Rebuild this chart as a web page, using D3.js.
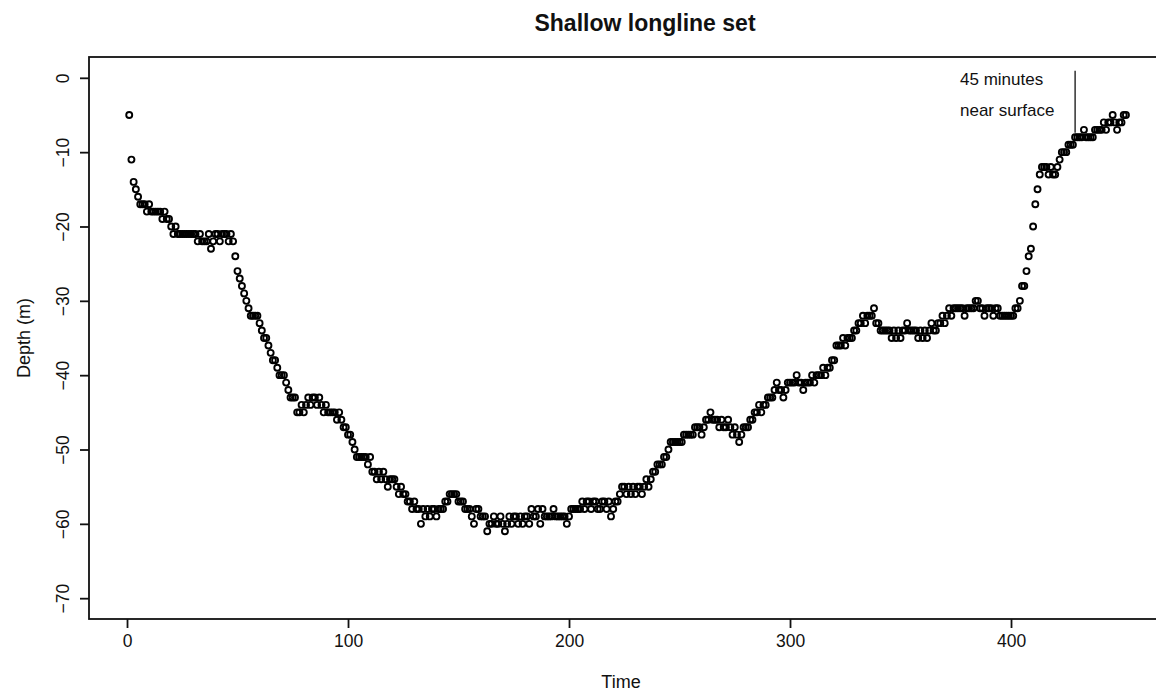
<!DOCTYPE html>
<html><head><meta charset="utf-8">
<script src="https://cdn.jsdelivr.net/npm/d3@7"></script>
<style>
body{margin:0;background:#fff;}
text{font-family:"Liberation Sans",Arial,Helvetica,sans-serif;fill:#111;}
</style></head>
<body><svg id="chart" width="1156" height="694"></svg>
<script>
// Depth (m) recorded at successive time steps (time = 1, 2, 3, ...)
const depth = [
-5,-11,-14,-15,-16,-17,-17,-17,-18,-17,
-18,-18,-18,-18,-18,-19,-18,-19,-19,-20,
-21,-20,-21,-21,-21,-21,-21,-21,-21,-21,
-21,-22,-21,-22,-22,-22,-21,-23,-22,-21,
-21,-22,-21,-21,-21,-22,-21,-22,-24,-26,
-27,-28,-29,-30,-31,-32,-32,-32,-32,-33,
-34,-35,-35,-36,-37,-38,-38,-39,-40,-40,
-40,-41,-42,-43,-43,-43,-45,-45,-44,-45,
-44,-43,-44,-43,-43,-44,-43,-44,-45,-44,
-45,-45,-45,-45,-46,-45,-46,-47,-47,-48,
-48,-49,-50,-51,-51,-51,-51,-51,-52,-51,
-53,-53,-54,-53,-54,-53,-54,-55,-54,-54,
-54,-55,-56,-55,-56,-56,-57,-57,-58,-57,
-58,-58,-60,-58,-59,-58,-59,-58,-58,-59,
-58,-58,-58,-57,-57,-56,-56,-56,-56,-57,
-57,-57,-58,-58,-58,-59,-60,-58,-58,-59,
-59,-59,-61,-60,-60,-59,-60,-60,-59,-60,
-61,-60,-59,-60,-59,-59,-60,-59,-60,-59,
-59,-60,-58,-59,-59,-58,-60,-58,-59,-59,
-59,-59,-58,-59,-59,-59,-59,-59,-60,-59,
-58,-58,-58,-58,-58,-57,-58,-57,-57,-58,
-57,-57,-58,-58,-57,-57,-58,-57,-59,-58,
-57,-57,-56,-55,-55,-56,-55,-56,-55,-56,
-55,-55,-56,-55,-54,-55,-54,-53,-53,-52,
-52,-52,-51,-51,-50,-49,-49,-49,-49,-49,
-49,-48,-48,-48,-48,-48,-47,-47,-47,-48,
-47,-46,-46,-45,-46,-46,-46,-47,-46,-47,
-47,-46,-47,-48,-47,-48,-49,-48,-47,-47,
-47,-46,-46,-45,-45,-44,-45,-44,-44,-43,
-43,-43,-42,-41,-42,-42,-43,-42,-41,-41,
-41,-41,-40,-41,-41,-42,-41,-41,-41,-40,
-41,-40,-40,-40,-39,-40,-39,-39,-38,-38,
-36,-36,-36,-35,-36,-35,-35,-35,-34,-34,
-33,-33,-32,-33,-32,-32,-32,-31,-33,-33,
-34,-34,-34,-34,-34,-35,-34,-35,-34,-35,
-34,-34,-33,-34,-34,-34,-34,-35,-34,-35,
-34,-35,-34,-33,-34,-34,-33,-33,-32,-33,
-32,-31,-32,-31,-31,-31,-31,-31,-32,-31,
-31,-31,-31,-30,-30,-31,-31,-32,-31,-31,
-31,-32,-31,-31,-32,-32,-32,-32,-32,-32,
-32,-31,-31,-30,-28,-28,-26,-24,-23,-20,
-17,-15,-13,-12,-12,-12,-13,-12,-13,-13,
-12,-11,-10,-10,-10,-9,-9,-9,-8,-8,
-8,-8,-7,-8,-8,-8,-8,-7,-7,-7,
-7,-6,-7,-6,-6,-5,-6,-7,-6,-6,
-5,-5
];
const xTicks = [0, 100, 200, 300, 400];
const yTicks = [-70, -60, -50, -40, -30, -20, -10, 0];
const titleText = "Shallow longline set";
const xLabel = "Time";
const yLabel = "Depth (m)";
const noteLines = ["45 minutes", "near surface"];
const noteTime = [429];
const noteDepth = [0.95, -7.4];

const points = depth.map((d, i) => ({t: i + 1, d: d}));

const svg = d3.select("#chart");
const box = {left: 89, top: 57, bottom: 619};
const x = d3.scaleLinear().domain([-17.2, 470]).range([box.left, box.left + 487.2 * 2.21]);
const y = d3.scaleLinear().domain([-72.8, 2.8]).range([box.bottom, box.top]);

const minus = v => String(v).replace("-", "\u2212");

// points
svg.append("g").selectAll("circle").data(points).join("circle")
  .attr("cx", p => x(p.t)).attr("cy", p => y(p.d)).attr("r", 3.0)
  .attr("fill", "none").attr("stroke", "#000").attr("stroke-width", 1.9);

// frame
svg.append("rect").attr("x", box.left).attr("y", box.top)
  .attr("width", x.range()[1] - box.left).attr("height", box.bottom - box.top)
  .attr("fill", "none").attr("stroke", "#111").attr("stroke-width", 1.8);

// x axis
const gx = svg.append("g").attr("transform", `translate(0,${box.bottom})`)
  .call(d3.axisBottom(x).tickValues(xTicks).tickSize(9).tickPadding(7).tickFormat(minus));
gx.select(".domain").remove();
gx.selectAll(".tick line").attr("stroke", "#111").attr("stroke-width", 1.8);
gx.selectAll(".tick text").attr("font-size", 17.5).attr("fill", "#111");

// y axis
const gy = svg.append("g").attr("transform", `translate(${box.left},0)`)
  .call(d3.axisLeft(y).tickValues(yTicks).tickSize(9).tickFormat(minus));
gy.select(".domain").remove();
gy.selectAll(".tick line").attr("stroke", "#111").attr("stroke-width", 1.8);
gy.selectAll(".tick text").attr("font-size", 17.5).attr("fill", "#111")
  .attr("x", 0).attr("dy", 0).attr("text-anchor", "middle")
  .attr("transform", "translate(-20,0) rotate(-90)");

// titles
svg.append("text").attr("x", 645).attr("y", 31).attr("text-anchor", "middle")
  .attr("font-size", 23).attr("font-weight", "bold").text(titleText);
svg.append("text").attr("x", 621).attr("y", 688).attr("text-anchor", "middle")
  .attr("font-size", 18).text(xLabel);
svg.append("text").attr("transform", `translate(30,${(box.top + box.bottom) / 2}) rotate(-90)`)
  .attr("text-anchor", "middle").attr("font-size", 18).text(yLabel);

// annotation
svg.append("line").attr("x1", x(noteTime[0])).attr("x2", x(noteTime[0]))
  .attr("y1", y(noteDepth[0])).attr("y2", y(noteDepth[1]))
  .attr("stroke", "#111").attr("stroke-width", 1.3);
svg.append("g").selectAll("text").data(noteLines).join("text")
  .attr("x", 960).attr("y", (d, i) => 85 + i * 31)
  .attr("font-size", 17).text(d => d);
</script></body></html>
